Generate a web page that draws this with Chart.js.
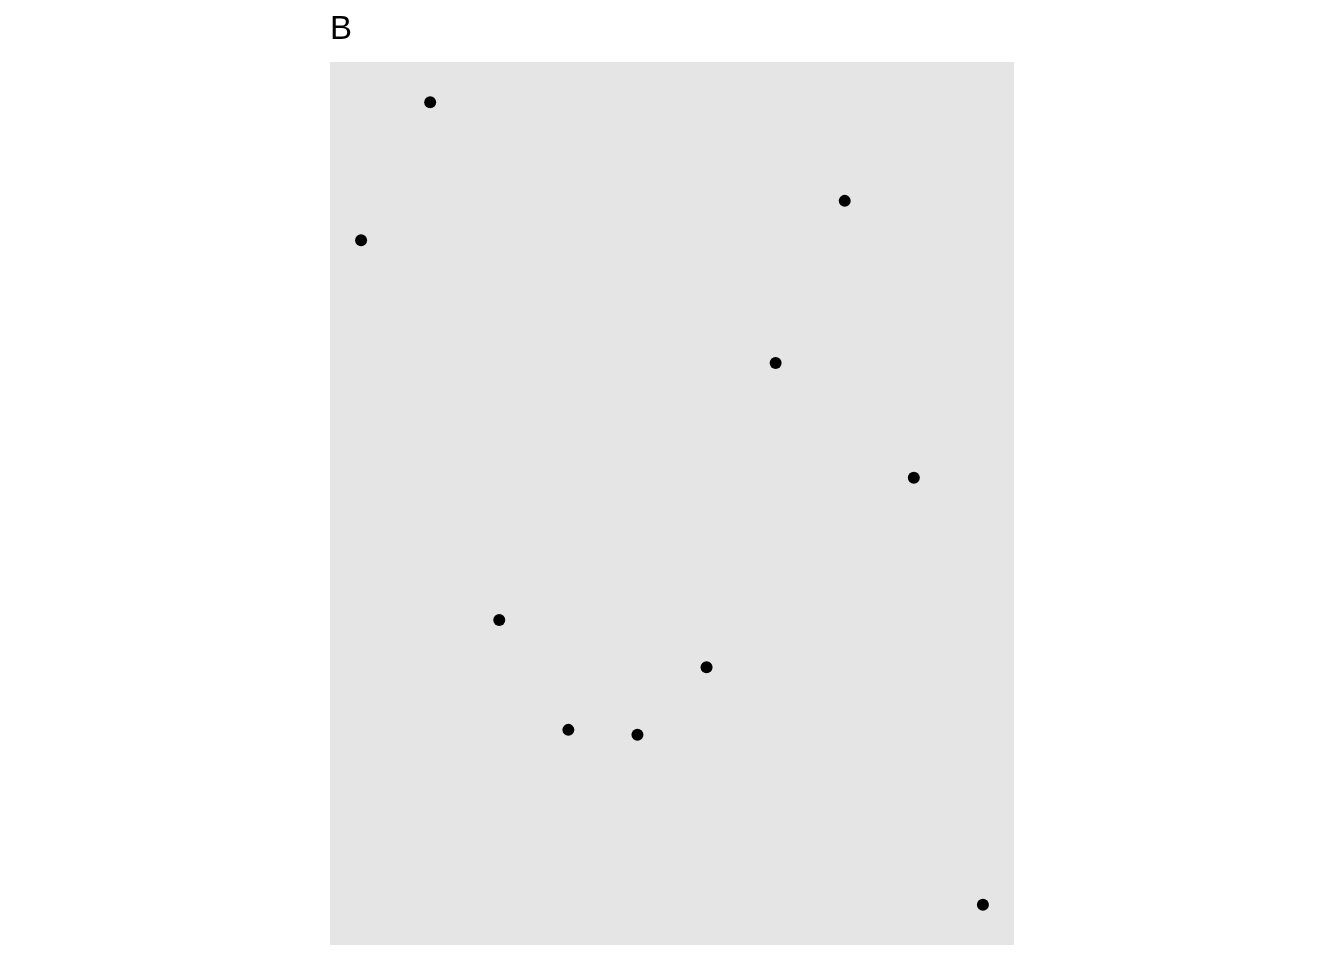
<!DOCTYPE html>
<html>
<head>
<meta charset="utf-8">
<script src="https://cdn.jsdelivr.net/npm/chart.js@4"></script>
<style>
html,body{margin:0;padding:0;background:#fff;}
canvas{display:block;}
</style>
</head>
<body>
<canvas id="c" width="1344" height="960"></canvas>
<script>
const titleText = "B";
const xValues = [1, 2, 3, 4, 5, 6, 7, 8, 9, 10];
const yValues = [0.828, 1.0, 0.355, 0.218, 0.212, 0.296, 0.675, 0.877, 0.532, 0.0];

const points = xValues.map((x, i) => ({x: x, y: yValues[i]}));

const panelBg = {
  id: 'panelBg',
  beforeDatasetsDraw(chart) {
    const {ctx, chartArea: a} = chart;
    ctx.save();
    ctx.fillStyle = '#e5e5e5';
    ctx.fillRect(a.left, a.top, a.right - a.left, a.bottom - a.top);
    ctx.restore();
  }
};

new Chart(document.getElementById('c'), {
  type: 'scatter',
  data: {
    datasets: [{
      data: points,
      backgroundColor: '#000000',
      borderColor: '#000000',
      pointRadius: 6,
      pointHoverRadius: 6,
      borderWidth: 0
    }]
  },
  options: {
    responsive: false,
    animation: false,
    events: [],
    layout: {padding: {left: 330, right: 330, top: 0, bottom: 15}},
    plugins: {
      legend: {display: false},
      tooltip: {enabled: false},
      title: {
        display: true,
        text: titleText,
        align: 'start',
        color: '#000000',
        font: {family: 'Liberation Sans, Arial, sans-serif', size: 33, weight: 'normal', lineHeight: 1.0},
        padding: {top: 13, bottom: 16}
      }
    },
    scales: {
      x: {type: 'linear', min: 0.55, max: 10.45, display: false},
      y: {type: 'linear', min: -0.05, max: 1.05, display: false}
    }
  },
  plugins: [panelBg]
});
</script>
</body>
</html>
